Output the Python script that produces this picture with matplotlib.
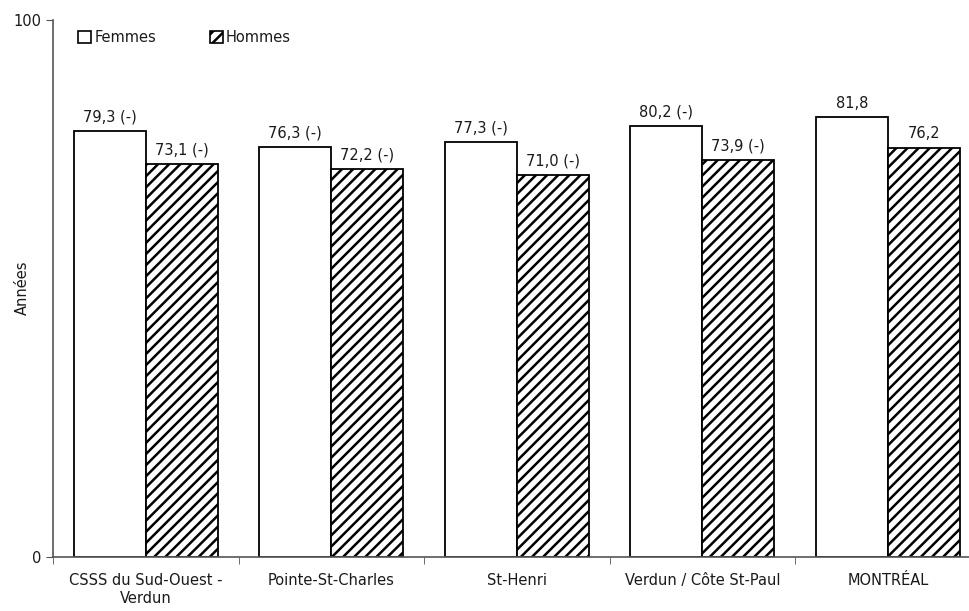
import matplotlib
matplotlib.use('Agg')
import matplotlib.pyplot as plt
from matplotlib.patches import Patch
import numpy as np

categories = ['CSSS du Sud-Ouest -\nVerdun', 'Pointe-St-Charles', 'St-Henri',
              'Verdun / Côte St-Paul', 'MONTRÉAL']
femmes = [79.3, 76.3, 77.3, 80.2, 81.8]
hommes = [73.1, 72.2, 71.0, 73.9, 76.2]
femmes_lbl = ['79,3 (-)', '76,3 (-)', '77,3 (-)', '80,2 (-)', '81,8']
hommes_lbl = ['73,1 (-)', '72,2 (-)', '71,0 (-)', '73,9 (-)', '76,2']

plt.rcParams['font.family'] = 'DejaVu Sans'
plt.rcParams['hatch.linewidth'] = 1.8
fs = 10.5
txt = '#1a1a1a'

fig = plt.figure(figsize=(9.69, 6.11), dpi=100)
# axes runs a bit past the right edge, like the original
ax = fig.add_axes([53/969, (611-556.7)/611, (980.5-53)/969, 537/611])

x = np.arange(len(categories))
w = 72/185.5
b1 = ax.bar(x - w/2, femmes, w, color='white', edgecolor='black', linewidth=1.3)
b2 = ax.bar(x + w/2, hommes, w, color='white', edgecolor='black', linewidth=1.3,
            hatch='///')

for r, t in zip(b1, femmes_lbl):
    ax.text(r.get_x() + r.get_width()/2, r.get_height() + 1.2, t,
            ha='center', va='bottom', fontsize=fs, color=txt)
for r, t in zip(b2, hommes_lbl):
    ax.text(r.get_x() + r.get_width()/2, r.get_height() + 1.2, t,
            ha='center', va='bottom', fontsize=fs, color=txt)

ax.set_xlim(-0.5, len(categories) - 0.5)
ax.set_ylim(0, 100)
ax.set_yticks([0, 100])
ax.set_xticks(x)
ax.set_xticklabels(categories, fontsize=fs, color=txt)
ax.set_xticks(np.arange(len(categories) + 1) - 0.5, minor=True)
ax.tick_params(axis='x', which='major', length=0, pad=12)
ax.tick_params(axis='x', which='minor', length=5, direction='out', color='#555555')
ax.tick_params(axis='y', length=5, direction='out', labelsize=fs, color='#555555',
               labelcolor=txt)

for s in ['top', 'right']:
    ax.spines[s].set_visible(False)
for s in ['left', 'bottom']:
    ax.spines[s].set_color('#555555')
    ax.spines[s].set_linewidth(1.2)

ax.set_ylabel('Années', fontsize=fs, color=txt)
ax.yaxis.set_label_coords(-23/927.5, 0.5)

handles = [Patch(facecolor='white', edgecolor='black', linewidth=1.2, label='Femmes'),
           Patch(facecolor='white', edgecolor='black', linewidth=1.2, hatch='///',
                 label='Hommes')]
leg = ax.legend(handles=handles, loc='upper left', bbox_to_anchor=(0.013, 1.005),
                ncol=2, frameon=False, fontsize=fs, handlelength=0.9,
                handleheight=0.9, handletextpad=0.2, columnspacing=3.7)
for t in leg.get_texts():
    t.set_color(txt)

fig.savefig('out.png', dpi=100)
